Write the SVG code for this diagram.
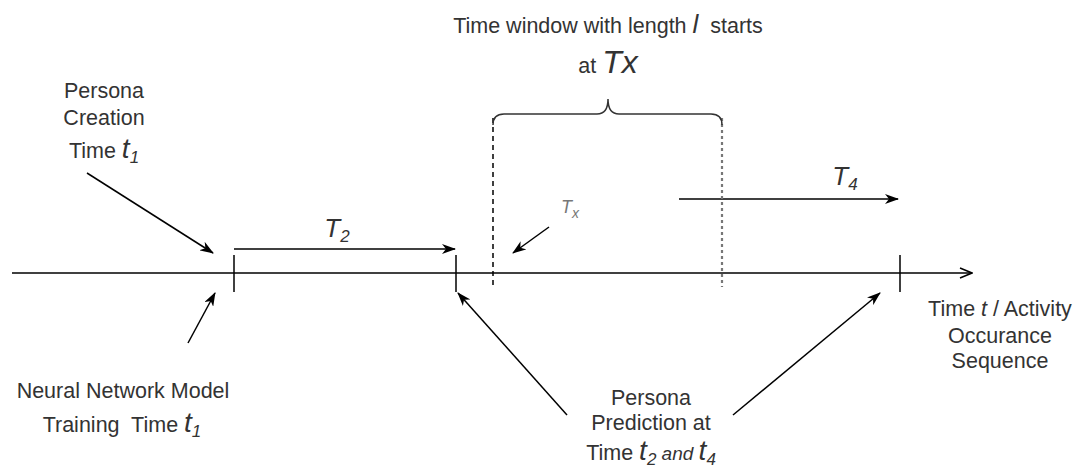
<svg xmlns="http://www.w3.org/2000/svg" width="1083" height="472" viewBox="0 0 1083 472">
<defs>
<style>
text{font-family:"Liberation Sans",Arial,Helvetica,sans-serif;font-size:21.5px;fill:#333;text-anchor:middle}
.it{font-style:italic}
.bt{font-style:italic;font-size:28px}
.sub{font-style:italic;font-size:17px}
.ln{stroke:#000;stroke-width:1.5;fill:none}
.arr{stroke:#000;stroke-width:1.5;fill:none;marker-end:url(#classic)}
</style>
<marker id="classic" viewBox="0 0 14 10" refX="13" refY="5" markerWidth="14" markerHeight="10" markerUnits="userSpaceOnUse" orient="auto">
<path d="M0,0 L14,5 L0,10 L4,5 Z" fill="#000"/>
</marker>
<marker id="open" viewBox="0 0 14 12" refX="13" refY="6" markerWidth="14" markerHeight="12" markerUnits="userSpaceOnUse" orient="auto">
<path d="M1,1 L13,6 L1,11" fill="none" stroke="#000" stroke-width="1.5"/>
</marker>
</defs>
<rect width="1083" height="472" fill="#fff"/>

<g id="connectors">
<line id="axis" class="ln" x1="12" y1="273" x2="972" y2="273" marker-end="url(#open)"/>
<line class="ln" x1="234" y1="255" x2="234" y2="292"/>
<line class="ln" x1="456" y1="255" x2="456" y2="292"/>
<line class="ln" x1="900" y1="255" x2="900" y2="292"/>
<line id="T2-arrow" class="arr" x1="234" y1="249" x2="455" y2="249"/>
<line id="T4-arrow" class="arr" x1="679" y1="199" x2="898" y2="199"/>
<line class="ln" x1="493" y1="118" x2="493" y2="287" stroke-dasharray="5 4"/>
<line x1="722" y1="118" x2="722" y2="287" stroke="#777" stroke-width="2.2" stroke-dasharray="3 3"/>
<path id="brace" d="M493,125 Q493,114 504,114 L597,114 Q608,114 608,99 Q608,114 619,114 L711,114 Q722,114 722,125" fill="none" stroke="#333" stroke-width="1.5"/>
<line class="arr" x1="87" y1="173" x2="213" y2="253"/>
<line class="arr" x1="188" y1="343" x2="215" y2="293"/>
<line class="arr" x1="549" y1="227" x2="513" y2="253"/>
<line class="arr" x1="567" y1="415" x2="458" y2="293"/>
<line class="arr" x1="733" y1="415" x2="880" y2="293"/>
</g>

<g id="title">
<text x="608" y="33">Time window with length <tspan class="it" font-size="26">l</tspan>&#160; starts</text>
<text x="608" y="73">at <tspan class="it" font-size="32">Tx</tspan></text>
</g>

<g id="creation-label">
<text x="104" y="98">Persona</text>
<text x="104" y="125">Creation</text>
<text x="104" y="158">Time <tspan class="bt">t</tspan><tspan class="sub" dy="5">1</tspan></text>
</g>

<g id="T2-label">
<text x="337" y="237"><tspan class="it" font-size="26">T</tspan><tspan class="sub" dy="5">2</tspan></text>
</g>

<g id="T4-label">
<text x="845" y="185"><tspan class="it" font-size="26">T</tspan><tspan class="sub" dy="5">4</tspan></text>
</g>

<g id="Tx-label">
<text x="570" y="213" style="fill:#777"><tspan class="it" font-size="18">T</tspan><tspan class="it" font-size="14" dy="5">x</tspan></text>
</g>

<g id="training-label">
<text x="123" y="398">Neural Network Model</text>
<text x="122" y="432">Training&#160; Time <tspan class="bt">t</tspan><tspan class="sub" dy="5">1</tspan></text>
</g>

<g id="prediction-label">
<text x="651" y="405">Persona</text>
<text x="651" y="430">Prediction at</text>
<text x="651" y="460">Time <tspan class="bt">t</tspan><tspan class="sub" dy="5">2</tspan><tspan class="it" font-size="19" dy="-5"> and </tspan><tspan class="bt">t</tspan><tspan class="sub" dy="5">4</tspan></text>
</g>

<g id="axis-label">
<text x="1000" y="316">Time <tspan class="it">t</tspan> / Activity</text>
<text x="1000" y="343">Occurance</text>
<text x="1000" y="368">Sequence</text>
</g>
</svg>
